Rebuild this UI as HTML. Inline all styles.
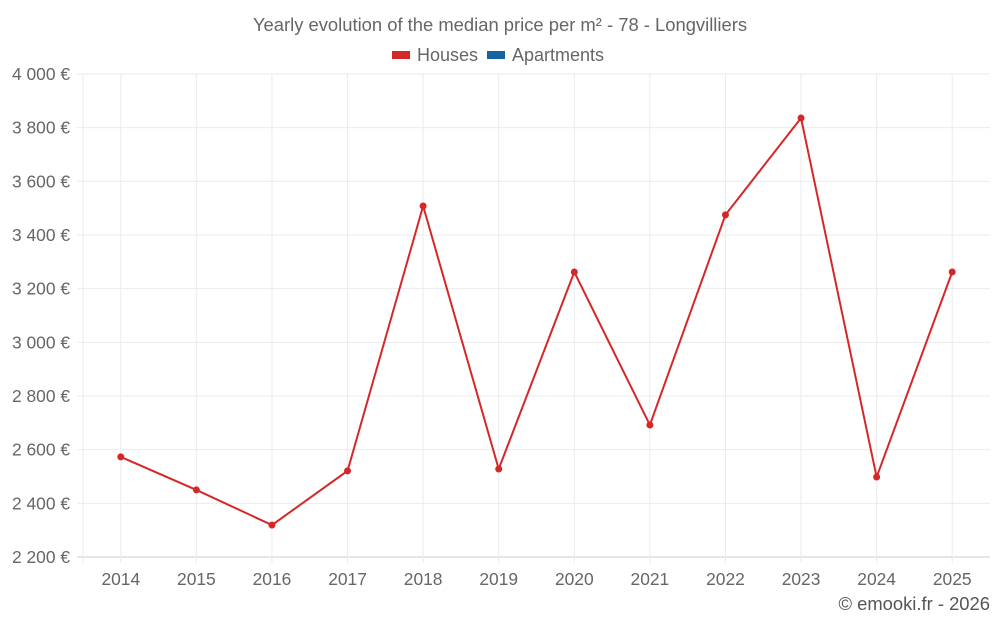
<!DOCTYPE html>
<html><head><meta charset="utf-8"><style>
html,body{margin:0;padding:0;background:#fff;width:1000px;height:625px;overflow:hidden;font-family:"Liberation Sans",sans-serif}
</style></head><body>
<svg width="1000" height="625" xmlns="http://www.w3.org/2000/svg">
<text x="500" y="31" text-anchor="middle" font-size="18.4" fill="#666">Yearly evolution of the median price per m² - 78 - Longvilliers</text>
<g>
<g><rect x="392" y="51" width="18" height="8" fill="#d62728"/><text x="417" y="61" font-size="18" fill="#666">Houses</text></g>
<g><rect x="487" y="51" width="18" height="8" fill="#1565a0"/><text x="512" y="61" font-size="18" fill="#666">Apartments</text></g>
</g>
<g id="grid"></g>
<g id="axes"></g>
<g id="series"></g>
<text x="990" y="610" text-anchor="end" font-size="18.4" fill="#555">© emooki.fr - 2026</text>
</svg>
<script>
const years=["2014","2015","2016","2017","2018","2019","2020","2021","2022","2023","2024","2025"];
const houses=[2573,2450,2319,2521,3508,2528,3262,2692,3475,3836,2498,3262];
const yTicks=[2200,2400,2600,2800,3000,3200,3400,3600,3800,4000];
const L=83,R=990,T=74,B=557,yMin=2200,yMax=4000;
const NS="http://www.w3.org/2000/svg";
const band=(R-L)/years.length;
function xS(i){return L+band*(i+0.5);}
function yS(v){return B-(v-yMin)/(yMax-yMin)*(B-T);}
function mk(tag,attrs,parent){const e=document.createElementNS(NS,tag);for(const k in attrs)e.setAttribute(k,attrs[k]);parent.appendChild(e);return e;}
const grid=document.getElementById('grid'),axes=document.getElementById('axes'),ser=document.getElementById('series');
yTicks.forEach(v=>{
 const y=yS(v);
 const l=mk('line',{x1:L-6,x2:R,y1:y,y2:y,stroke:v===yMin?'#ccc':'#ebebeb'},grid);
 
 
 const t=mk('text',{x:70,y:y+6,'text-anchor':'end','font-size':'17.4',fill:'#666'},axes);
 t.textContent=v.toLocaleString('en').replace(',',' ')+' €';
 
 
});
const l0=mk('line',{x1:L,x2:L,y1:T,y2:B+6,stroke:'#ebebeb'},grid);


years.forEach((yr,i)=>{
 const x=xS(i);
 const l=mk('line',{x1:x,x2:x,y1:T,y2:B+6,stroke:'#ebebeb'},grid);
 
 
 const t=mk('text',{x:x,y:585,'text-anchor':'middle','font-size':'17.4',fill:'#666'},axes);
 t.textContent=yr;
 
 
});
const pts=houses.map((v,i)=>xS(i)+','+yS(v)).join(' ');
const pl=mk('polyline',{points:pts,fill:'none',stroke:'#d62728','stroke-width':2},ser);


houses.forEach((v,i)=>{
 const c=mk('circle',{cx:xS(i),cy:yS(v),r:3.5,fill:'#d62728'},ser);
 
 
});
</script>
</body></html>
